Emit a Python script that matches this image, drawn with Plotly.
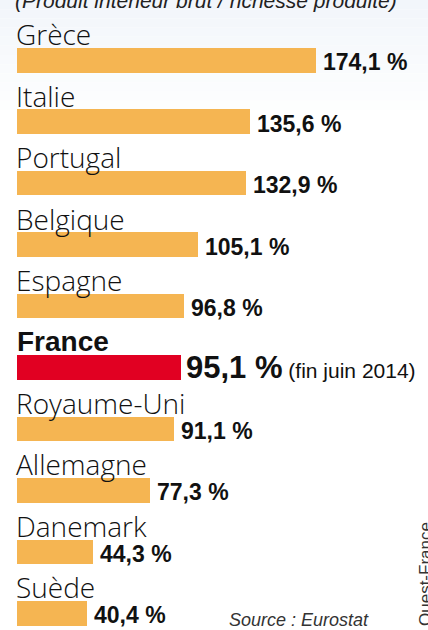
import plotly.graph_objects as go

countries = ["Grèce", "Italie", "Portugal", "Belgique", "Espagne", "France",
             "Royaume-Uni", "Allemagne", "Danemark", "Suède"]
values = [174.1, 135.6, 132.9, 105.1, 96.8, 95.1, 91.1, 77.3, 44.3, 40.4]
value_labels = ["174,1 %", "135,6 %", "132,9 %", "105,1 %", "96,8 %", "95,1 %",
                "91,1 %", "77,3 %", "44,3 %", "40,4 %"]
highlight = "France"
highlight_note = "(fin juin 2014)"
subtitle = "(Produit intérieur brut / richesse produite)"
source = "Source : Eurostat"
credit = "Ouest-France"

W, H = 428, 630
ORANGE = "#f5b552"
RED = "#e10022"

colors = [RED if c == highlight else ORANGE for c in countries]

fig = go.Figure()
fig.add_trace(go.Bar(
    x=values, y=countries, orientation="h",
    marker=dict(color=colors, line=dict(width=0)),
    width=0.4, hoverinfo="skip",
))

# background gradient (light blue at top fading to white)
steps = 12
top_rgb = (242, 246, 251)
for i in range(steps):
    t = i / steps
    r = int(top_rgb[0] + (255 - top_rgb[0]) * t)
    g = int(top_rgb[1] + (255 - top_rgb[1]) * t)
    b = int(top_rgb[2] + (255 - top_rgb[2]) * t)
    y0 = i * 110 / steps
    y1 = (i + 1) * 110 / steps
    fig.add_shape(type="rect", xref="paper", yref="paper",
                  x0=0, x1=1, y0=1 - y1 / H, y1=1 - y0 / H,
                  fillcolor=f"rgb({r},{g},{b})", line=dict(width=0), layer="below")

SANS = "Liberation Sans, Arial, sans-serif"
LIGHT = dict(family="Open Sans, Liberation Sans, sans-serif", size=28, color="#111", weight=300)
BOLD = dict(family=SANS, size=23, color="#111", weight="bold")

annotations = []
for c, v, lab in zip(countries, values, value_labels):
    if c == highlight:
        annotations.append(dict(x=0, y=c, xref="x", yref="y", text=f"<b>{c}</b>",
                                xanchor="left", yanchor="middle", yshift=26, xshift=-2, showarrow=False,
                                font=dict(family=SANS, size=28, color="#111")))
        annotations.append(dict(x=v, y=c, xref="x", yref="y",
                                text=f"<b>{lab}</b><span style='font-size:21px'> {highlight_note}</span>",
                                xanchor="left", yanchor="middle", xshift=3, yshift=0, showarrow=False,
                                font=dict(family=SANS, size=31, color="#111")))
    else:
        annotations.append(dict(x=0, y=c, xref="x", yref="y", text=c,
                                xanchor="left", yanchor="middle", yshift=26, showarrow=False,
                                font=LIGHT, xshift=-3))
        annotations.append(dict(x=v, y=c, xref="x", yref="y", text=lab,
                                xanchor="left", yanchor="middle", xshift=5, yshift=-2, showarrow=False,
                                font=BOLD))

annotations.append(dict(x=13 / W, y=1 - 0 / H, xref="paper", yref="paper", text=subtitle,
                        xanchor="left", yanchor="middle", showarrow=False,
                        font=dict(family=SANS, size=21, color="#222", style="italic")))
annotations.append(dict(x=227 / W, y=1 - 620 / H, xref="paper", yref="paper", text=source,
                        xanchor="left", yanchor="middle", showarrow=False,
                        font=dict(family=SANS, size=18, color="#333", style="italic")))
annotations.append(dict(x=425 / W, y=1 - 574 / H, xref="paper", yref="paper", text=credit,
                        xanchor="center", yanchor="middle", showarrow=False, textangle=-90,
                        font=dict(family=SANS, size=17, color="#333")))

fig.update_layout(
    width=W, height=H,
    margin=dict(l=0, r=0, t=0, b=0),
    paper_bgcolor="white", plot_bgcolor="rgba(0,0,0,0)",
    showlegend=False, bargap=0,
    xaxis=dict(range=[-17.3 / 1.718, (W - 17.3) / 1.718], visible=False, fixedrange=True),
    yaxis=dict(range=[-0.981 + 630 / 61.45, -0.981], visible=False, type="category",
               categoryorder="array", categoryarray=countries, fixedrange=True),
    annotations=annotations,
)

fig.write_html("out.html", config={"displayModeBar": False})
